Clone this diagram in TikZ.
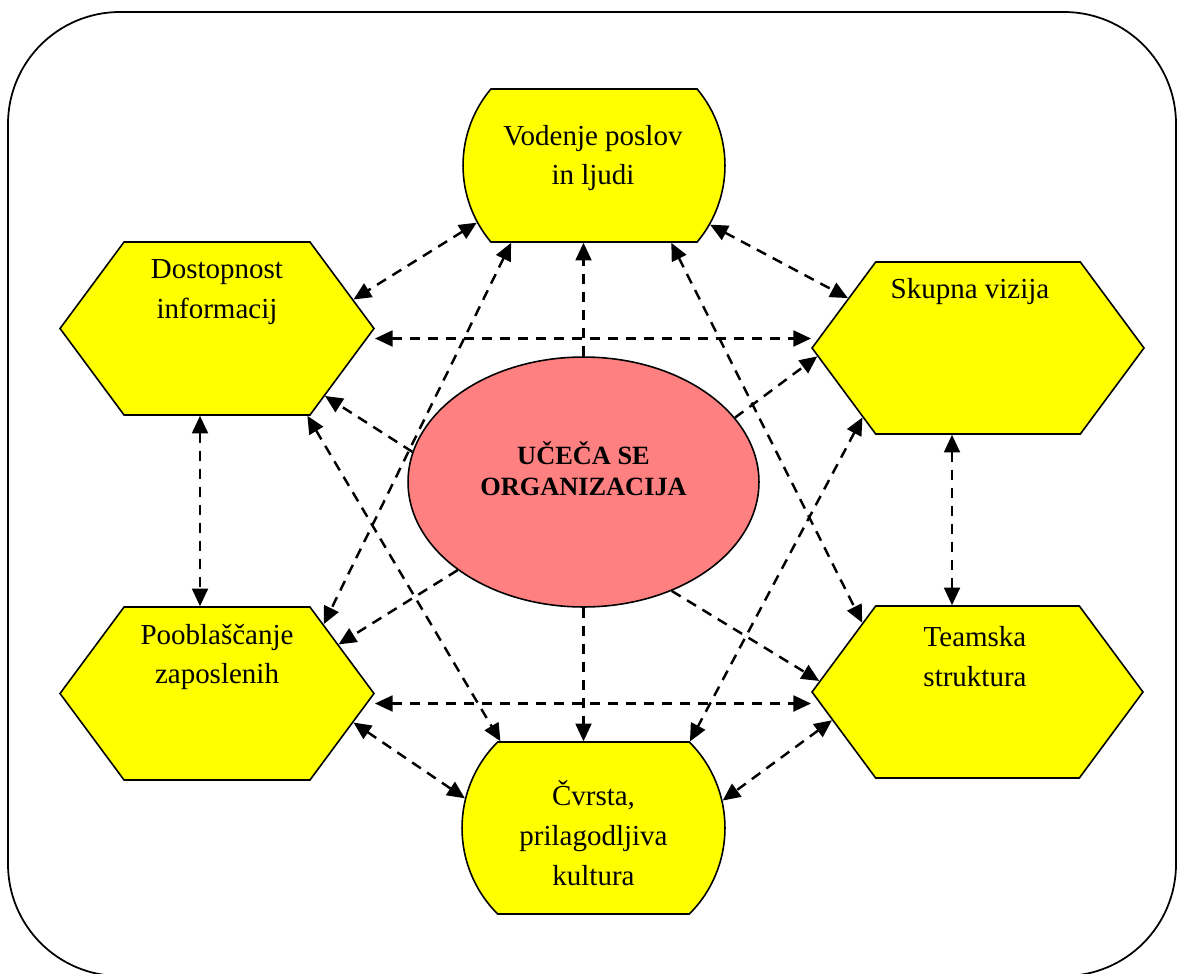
\documentclass[tikz,border=0pt]{standalone}
\usepackage{fontspec}
\setmainfont{Liberation Serif}
\usetikzlibrary{shapes.geometric,shapes.misc,shapes.symbols,arrows.meta,calc,backgrounds}
\definecolor{hexyellow}{RGB}{255,255,0}
\definecolor{coresalmon}{RGB}{255,128,128}
\tikzset{
  px/.style={x=0.02cm,y=-0.02cm},
  hexbox/.style={signal,signal to=east and west,signal pointer angle=107,
    draw,fill=hexyellow,line width=0.9pt,inner sep=0pt},
  capbox/.style={rounded rectangle,draw,fill=hexyellow,line width=0.9pt,inner sep=0pt},
  corebox/.style={ellipse,draw,fill=coresalmon,line width=0.9pt,inner sep=0pt,
    minimum width=7.02cm,minimum height=5cm},
  lab/.style={align=center,inner sep=0pt,font=\fontsize{16.5pt}{22.7pt}\selectfont},
  corelab/.style={align=center,inner sep=0pt,font=\fontsize{15pt}{17.5pt}\selectfont\bfseries},
  link/.style={line width=1.4pt,dash pattern=on 0.21cm off 0.15cm},
  twoway/.style={link,{Triangle[length=10pt,width=9pt]}-{Triangle[length=10pt,width=9pt]}},
  oneway/.style={link,-{Triangle[length=10pt,width=9pt]}}
}

\begin{document}
\begin{tikzpicture}[px]
    \useasboundingbox (0,0) rectangle (1177,974);
    \draw[line width=1pt,rounded corners=2.24cm] (8,12) rectangle (1176,976);
    % outer ring
    \node[capbox,rounded rectangle arc length=80,minimum width=5.24cm,minimum height=3.06cm] (vod) at (594,165.5) {};
    \node[capbox,rounded rectangle arc length=90,minimum width=5.26cm,minimum height=3.44cm] (cvr) at (593.5,828) {};
    \node[hexbox,minimum width=6.28cm,minimum height=3.46cm] (dost) at (217,328.5) {};
    \node[hexbox,minimum width=6.64cm,minimum height=3.44cm] (skup) at (978,348) {};
    \node[hexbox,minimum width=6.28cm,minimum height=3.46cm] (poob) at (217,693.5) {};
    \node[hexbox,minimum width=6.62cm,minimum height=3.44cm] (team) at (977.5,692) {};
    \node[corebox] (uso) at (583.5,482) {};
    % texts
    \node[lab] (vod-t) at (593,158) {Vodenje poslov\\in ljudi};
    \node[lab] (cvr-t) at (593.5,833) {Čvrsta,\\prilagodljiva\\kultura};
    \node[lab] (dost-t) at (217,292.5) {Dostopnost\\informacij};
    \node[lab] (skup-t) at (970,292) {Skupna vizija};
    \node[lab] (poob-t) at (217,657) {Pooblaščanje\\zaposlenih};
    \node[lab] (team-t) at (975,656.5) {Teamska\\struktura};
    \node[corelab] (uso-t) at (583.5,468.5) {UČEČA SE\\ORGANIZACIJA};
    % links
    \coordinate (dh) at ($(dost.east)+(0,-2mm)$);
    \coordinate (ph) at ($(poob.east)+(0,-2mm)$);
    \coordinate (dv) at ($(dost.south)+(-3.4mm,0)$);
    \coordinate (sv) at ($(skup.south)+(-5.2mm,0)$);
    \begin{scope}[on background layer]
      \draw[twoway] (vod.206) -- (dost.12);
      \draw[twoway] (vod.333.6) -- (skup.159.9);
      \draw[twoway] (dh) -- (dh -| skup.west);
      \draw[twoway] (ph) -- (ph -| team.west);
      \draw[twoway] (dv) -- (dv |- poob.north);
      \draw[twoway] (sv) -- (sv |- team.north);
      \draw[twoway] (vod.223.5) -- (poob.33.6);
      \draw[twoway] (vod.315.5) -- (team.149.6);
      \draw[twoway] (dost.-44.8) -- (cvr.137.6);
      \draw[twoway] (skup.211) -- (cvr.42.4);
      \draw[twoway] (poob.-12.4) -- (cvr.167.1);
      \draw[twoway] (team.191.6) -- (cvr.12.9);
      \draw[oneway] (uso.north) -- (uso.north |- vod.south);
      \draw[oneway] (uso.south) -- (uso.south |- cvr.north);
      \draw[oneway] (uso.170.2) -- (dost.-32.9);
      \draw[oneway] (uso.23.5) -- (skup.183.6);
      \draw[oneway] (uso.215.5) -- (poob.22);
      \draw[oneway] (uso.309.9) -- (team.176.6);
    \end{scope}
\end{tikzpicture}
\end{document}
